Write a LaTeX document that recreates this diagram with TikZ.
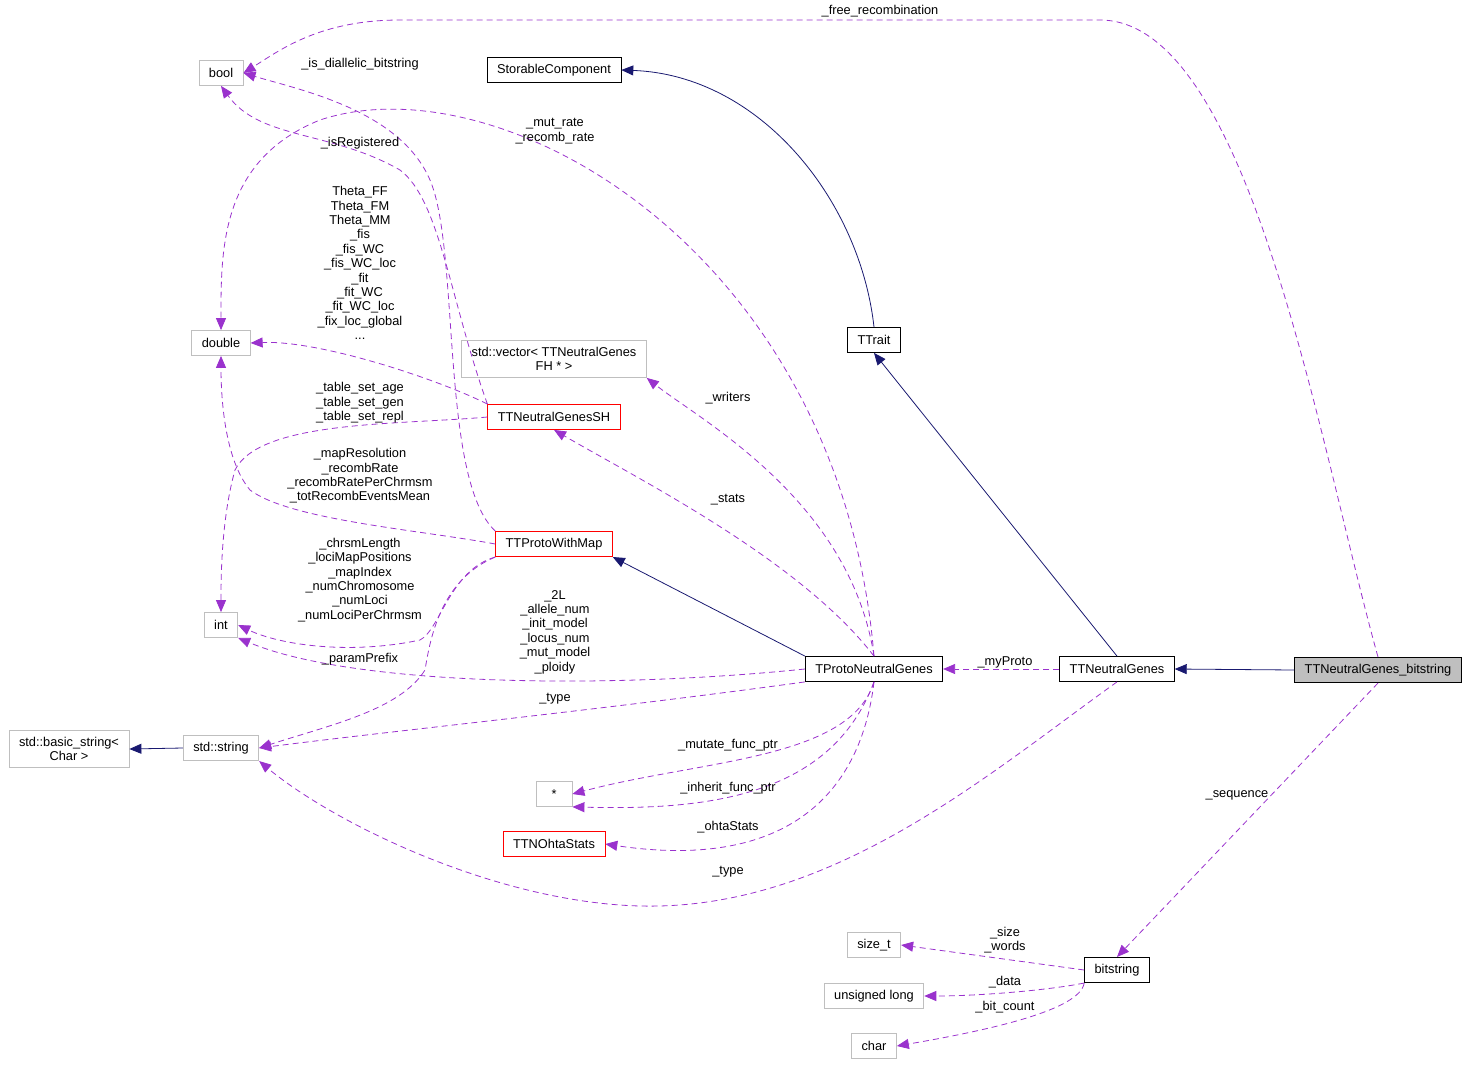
\documentclass[tikz,border=0pt]{standalone}
\usepackage{fontspec}
\setmainfont{Liberation Sans}
\usetikzlibrary{arrows.meta}
\definecolor{orchid}{HTML}{9A32CD}
\definecolor{navy}{HTML}{191970}
\definecolor{boxgray}{HTML}{BFBFBF}
\tikzset{
  every node/.style={font=\fontsize{6.4}{7.2}\selectfont},
  cls/.style={draw=black, inner xsep=5pt, minimum height=12.5pt, align=center},
  ext/.style={draw=boxgray, inner xsep=5pt, minimum height=12.5pt, align=center},
  red/.style={draw=red, inner xsep=5pt, minimum height=12.5pt, align=center},
  lbl/.style={align=center, inner sep=0pt},
  inh/.style={draw=navy, -{Triangle[length=6pt,width=5pt]}, fill=none},
  use/.style={draw=orchid, dashed, dash pattern=on 3pt off 2pt, -{Triangle[length=6pt,width=5pt,fill=orchid]}}
}
\begin{document}
\begin{tikzpicture}[x=0.5pt,y=-0.5pt]
\useasboundingbox (0,0) rectangle (1469,1067);

% classes
\node[ext] (bool) at (221,73) {bool};
\node[cls] (storable) at (554,70) {StorableComponent};
\node[ext] (double) at (221,343) {double};
\node[ext] (vec) at (554,359) {std::vector< TTNeutralGenes\\FH * >};
\node[red] (sh) at (554,417) {TTNeutralGenesSH};
\node[cls] (trait) at (874,340) {TTrait};
\node[red] (pwm) at (554,544) {TTProtoWithMap};
\node[ext] (int) at (221,625) {int};
\node[cls] (proto) at (874,669) {TProtoNeutralGenes};
\node[cls] (genes) at (1117,669) {TTNeutralGenes};
\node[cls, fill=boxgray] (gbit) at (1378,670) {TTNeutralGenes\_bitstring};
\node[ext] (bstr) at (69,749) {std::basic\_string<\\Char >};
\node[ext] (str) at (221,748) {std::string};
\node[ext, minimum width=18pt] (ptr) at (554,794) {*};
\node[red] (ohta) at (554,844) {TTNOhtaStats};
\node[ext] (sizet) at (874,945) {size\_t};
\node[cls] (bits) at (1117,970) {bitstring};
\node[ext] (ulong) at (874,996) {unsigned long};
\node[ext] (char) at (874,1046) {char};

% inheritance
\draw[inh] (trait.north) .. controls (860,200) and (760,75) .. (storable.east);
\draw[inh] (genes.north) -- (trait.south);
\draw[inh] (proto.north west) -- (pwm.south east);
\draw[inh] (gbit.west) -- (genes.east);
\draw[inh] (str.west) -- (bstr.east);

% members
\draw[use] (gbit.north) .. controls (1320,450) and (1250,20) .. (1100,20) -- (400,20) .. controls (320,20) and (280,50) .. (bool.east);
\draw[use] (pwm.north west) .. controls (440,480) and (460,250) .. (430,180) .. controls (400,110) and (300,90) .. (bool.east);
\draw[use] (sh.north west) .. controls (450,300) and (440,200) .. (400,170) .. controls (330,130) and (260,140) .. (bool.south);
\draw[use] (proto.north) .. controls (840,250) and (500,60) .. (320,120) .. controls (220,160) and (221,250) .. (double.north);
\draw[use] (sh.north west) .. controls (440,380) and (320,340) .. (double.east);
\draw[use] (pwm.west) .. controls (420,530) and (290,520) .. (250,490) .. controls (225,460) and (221,400) .. (double.south);
\draw[use] (sh.west) .. controls (400,425) and (260,420) .. (235,470) .. controls (221,520) and (221,580) .. (int.north);
\draw[use] (pwm.south west) .. controls (450,570) and (440,630) .. (420,640) .. controls (350,655) and (280,645) .. (int.east);
\draw[use] (proto.west) .. controls (600,690) and (350,685) .. (int.south east);
\draw[use] (proto.north) .. controls (850,500) and (700,420) .. (vec.south east);
\draw[use] (proto.north) .. controls (800,560) and (640,480) .. (sh.south);
\draw[use] (pwm.south west) .. controls (440,580) and (430,640) .. (425,670) .. controls (400,710) and (330,725) .. (str.east);
\draw[use] (proto.south west) .. controls (600,710) and (400,730) .. (str.east);
\draw[use] (genes.south) .. controls (980,780) and (820,920) .. (620,905) .. controls (480,895) and (330,820) .. (str.south east);
\draw[use] (proto.south) .. controls (850,760) and (700,760) .. (ptr.east);
\draw[use] (proto.south) .. controls (830,800) and (700,810) .. (ptr.south east);
\draw[use] (proto.south) .. controls (860,800) and (780,870) .. (ohta.east);
\draw[use] (genes.west) -- (proto.east);
\draw[use] (gbit.south) -- (bits.north);
\draw[use] (bits.west) -- (sizet.east);
\draw[use] (bits.south west) .. controls (1050,990) and (980,996) .. (ulong.east);
\draw[use] (bits.south west) .. controls (1080,1010) and (990,1030) .. (char.east);

% labels
\node[lbl] (l1) at (880,11) {\_free\_recombination};
\node[lbl] (l2) at (360,64) {\_is\_diallelic\_bitstring};
\node[lbl] (l3) at (555,131) {\_mut\_rate\\\_recomb\_rate};
\node[lbl] (l4) at (360,143) {\_isRegistered};
\node[lbl] (l5) at (360,263) {Theta\_FF\\Theta\_FM\\Theta\_MM\\\_fis\\\_fis\_WC\\\_fis\_WC\_loc\\\_fit\\\_fit\_WC\\\_fit\_WC\_loc\\\_fix\_loc\_global\\...};
\node[lbl] (l6) at (360,403) {\_table\_set\_age\\\_table\_set\_gen\\\_table\_set\_repl};
\node[lbl] (l7) at (360,476) {\_mapResolution\\\_recombRate\\\_recombRatePerChrmsm\\\_totRecombEventsMean};
\node[lbl] (l8) at (360,580) {\_chrsmLength\\\_lociMapPositions\\\_mapIndex\\\_numChromosome\\\_numLoci\\\_numLociPerChrmsm};
\node[lbl] (l9) at (360,659) {\_paramPrefix};
\node[lbl] (l10) at (555,632) {\_2L\\\_allele\_num\\\_init\_model\\\_locus\_num\\\_mut\_model\\\_ploidy};
\node[lbl] (l11) at (555,699) {\_type};
\node[lbl] (l12) at (728,398) {\_writers};
\node[lbl] (l13) at (728,500) {\_stats};
\node[lbl] (l14) at (728,745) {\_mutate\_func\_ptr};
\node[lbl] (l15) at (728,788) {\_inherit\_func\_ptr};
\node[lbl] (l16) at (728,827) {\_ohtaStats};
\node[lbl] (l17) at (728,872) {\_type};
\node[lbl] (l18) at (1005,662) {\_myProto};
\node[lbl] (l19) at (1237,795) {\_sequence};
\node[lbl] (l20) at (1005,940) {\_size\\\_words};
\node[lbl] (l21) at (1005,982) {\_data};
\node[lbl] (l22) at (1005,1007) {\_bit\_count};
\end{tikzpicture}
\end{document}
